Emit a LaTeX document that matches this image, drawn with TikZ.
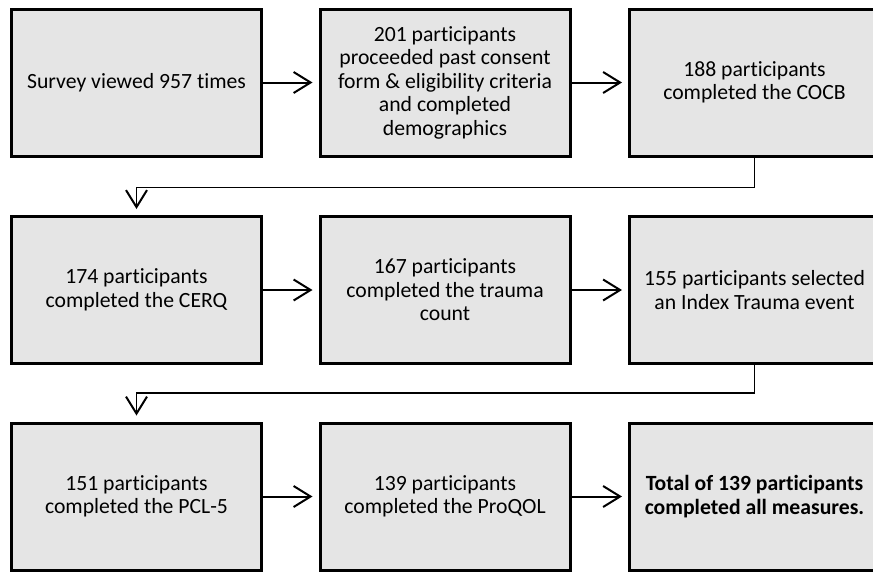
\documentclass[tikz,border=0pt]{standalone}
\usepackage{fontspec}
\setmainfont{Carlito}[Ligatures={NoCommon}]
\usetikzlibrary{arrows.meta,calc}
\tikzset{
  stepbox/.style={draw=black, line width=3pt, fill=black!10, minimum width=250pt,
    minimum height=147pt, align=center, inner sep=2pt,
    font=\fontsize{21.7}{23.5}\selectfont},
  flow/.style={line width=2pt, shorten >=6pt, -{Straight Barb[length=17pt,width=21pt,line width=2pt]}},
  wrap/.style={line width=1.5pt, shorten >=6pt, -{Straight Barb[length=17pt,width=21pt,line width=2pt]}},
}

\begin{document}
\begin{tikzpicture}[x=1pt,y=1pt]
  \useasboundingbox (0,0) rectangle (873,-574);
  \clip (0,0) rectangle (873,-574);

  % first row
  \node[stepbox] (s1) at (136.5,-82.5) {Survey viewed 957 times};
  \node[stepbox] (s2) at (445,-82.5)   {201 participants\\proceeded past consent\\form \& eligibility criteria\\and completed\\demographics};
  \node[stepbox] (s3) at (754.5,-82.5) {188 participants\\completed the COCB};

  % second row
  \node[stepbox] (s4) at (136.5,-290) {174 participants\\completed the CERQ};
  \node[stepbox] (s5) at (445,-290)   {167 participants\\completed the trauma\\count};
  \node[stepbox] (s6) at (754.5,-290) {155 participants selected\\an Index Trauma event};

  % third row
  \node[stepbox] (s7) at (136.5,-496.5) {151 participants\\completed the PCL-5};
  \node[stepbox] (s8) at (445,-496.5)   {139 participants\\completed the ProQOL};
  \node[stepbox] (s9) at (754.5,-496.5) {\bfseries Total of 139 participants\\\bfseries completed all measures.};

  % arrows along each row
  \draw[flow] (s1) -- (s2);
  \draw[flow] (s2) -- (s3);
  \draw[flow] (s4) -- (s5);
  \draw[flow] (s5) -- (s6);
  \draw[flow] (s7) -- (s8);
  \draw[flow] (s8) -- (s9);

  % wrap-around to the next row
  \draw[wrap] (s3.south) -- ++(0,-30) -| (s4.north);
  \draw[wrap] (s6.south) -- ++(0,-28) -| (s7.north);
\end{tikzpicture}
\end{document}
